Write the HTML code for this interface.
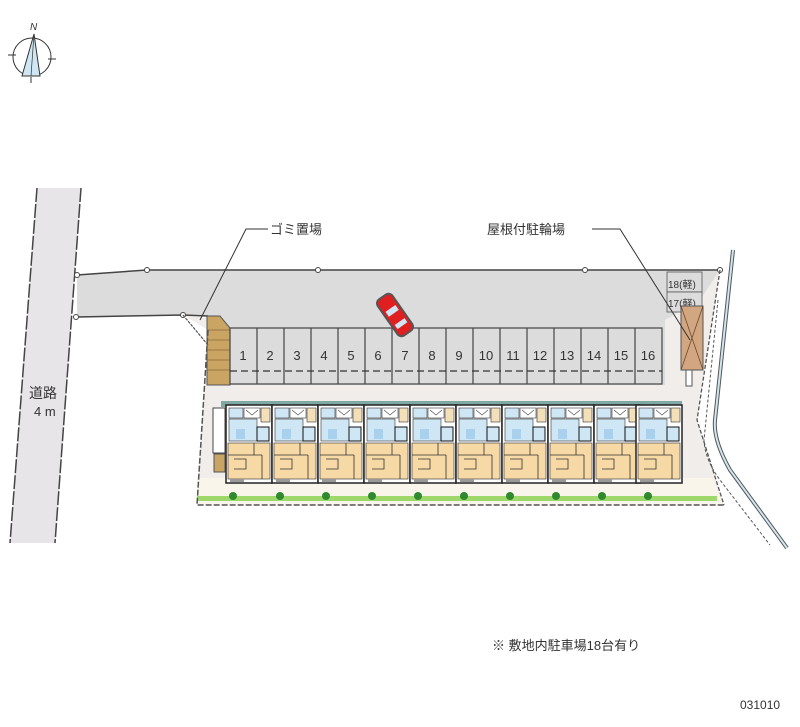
<!DOCTYPE html>
<html><head><meta charset="utf-8"><style>
html,body{margin:0;padding:0;background:#fff;width:800px;height:727px;overflow:hidden}
svg{display:block}
text{font-family:"Liberation Sans","Noto Sans CJK JP",sans-serif;fill:#333}
</style></head><body>
<svg width="800" height="727" viewBox="0 0 800 727" xmlns="http://www.w3.org/2000/svg">
<defs>
<g id="unit">
  <rect x="0" y="0" width="46" height="78" fill="#fff" stroke="#222" stroke-width="1.5"/>
  <rect x="3" y="3" width="14" height="10" fill="#cfe6f5" stroke="#333" stroke-width=".6"/>
  <rect x="18" y="3" width="16" height="10" fill="#fff" stroke="#333" stroke-width=".6"/>
  <path d="M20 5 L26 10 L32 5" fill="none" stroke="#444" stroke-width=".6"/>
  <rect x="35" y="3" width="9" height="14" fill="#f3dfb8" stroke="#333" stroke-width=".6"/>
  <rect x="3" y="14" width="28" height="22" fill="#cfe6f5" stroke="#333" stroke-width=".6"/>
  <rect x="10" y="24" width="9" height="10" fill="#a9d1ee"/>
  <rect x="31" y="22" width="12" height="14" fill="#cfe6f5" stroke="#111" stroke-width="1"/>
  <rect x="2" y="38" width="42" height="36" fill="#f7d9a6" stroke="#444" stroke-width=".7"/>
  <path d="M2 50 H36 M28 38 V50 M8 54 H20 V64 H8 M36 50 V74" fill="none" stroke="#333" stroke-width=".8"/>
  <rect x="4" y="74" width="14" height="3" fill="#999"/>
</g>
</defs>
<!-- compass -->
<g stroke="#333" stroke-width="1" fill="none">
  <circle cx="32" cy="57" r="19"/>
  <line x1="8" y1="55" x2="16" y2="55"/><line x1="48" y1="59" x2="56" y2="59"/>
  <line x1="31" y1="77" x2="31" y2="83"/>
</g>
<polygon points="34,34 22,76 40,76" fill="#cfe6f3" stroke="#333" stroke-width="1"/>
<line x1="34" y1="34" x2="31" y2="76" stroke="#333" stroke-width=".7"/>
<text x="30" y="30" font-size="10" font-style="italic">N</text>

<!-- left road -->
<polygon points="37,188 81,188 55,543 10,543" fill="#e8e5e8"/>
<line x1="37" y1="188" x2="10" y2="543" stroke="#444" stroke-width="1.5" stroke-dasharray="14 2"/>
<line x1="81" y1="188" x2="55" y2="543" stroke="#444" stroke-width="1.5" stroke-dasharray="14 2"/>
<text x="29" y="398" font-size="14">道路</text>
<text x="34" y="416" font-size="13">4 m</text>

<!-- site light area -->
<polygon points="183,315 230,320 665,320 700,300 720,270 697,420 724,505 197,505 208,330" fill="#f1edeb"/>
<polygon points="197,478 712,478 724,505 197,505" fill="#faf5ea"/>
<!-- driveway / lot -->
<polygon points="77,275 147,270 720,270 700,300 665,320 665,385 230,385 230,328 208,316 183,315 77,317" fill="#dcdcdc"/>
<polyline points="77,275 147,270 720,270" fill="none" stroke="#444" stroke-width="1.5"/>
<polyline points="77,317 183,315 208,316" fill="none" stroke="#444" stroke-width="1.5"/>
<g fill="#fff" stroke="#444" stroke-width="1"><circle cx="77" cy="275" r="2.5"/><circle cx="147" cy="270" r="2.5"/><circle cx="318" cy="270" r="2.5"/><circle cx="585" cy="270" r="2.5"/><circle cx="720" cy="270" r="2.5"/><circle cx="76" cy="317" r="2.5"/><circle cx="183" cy="315" r="2.5"/></g>
<!-- garbage -->
<polygon points="207,316 220,316 230,328 230,385 207,385" fill="#c9a463" stroke="#555" stroke-width="1"/>
<g stroke="#8a6a3a" stroke-width=".7"><line x1="207" y1="330" x2="230" y2="330"/><line x1="207" y1="340" x2="230" y2="340"/><line x1="207" y1="350" x2="230" y2="350"/><line x1="207" y1="360" x2="230" y2="360"/><line x1="207" y1="370" x2="230" y2="370"/></g>
<line x1="183" y1="315" x2="208" y2="345" stroke="#555" stroke-width="1.2" stroke-dasharray="3 1"/>
<!-- stalls -->
<rect x="230" y="328" width="432" height="56" fill="#dcdcdc" stroke="#444" stroke-width="1.2"/>
<g stroke="#444" stroke-width="1.2">
<line x1="257" y1="328" x2="257" y2="384"/><line x1="284" y1="328" x2="284" y2="384"/><line x1="311" y1="328" x2="311" y2="384"/><line x1="338" y1="328" x2="338" y2="384"/><line x1="365" y1="328" x2="365" y2="384"/><line x1="392" y1="328" x2="392" y2="384"/><line x1="419" y1="328" x2="419" y2="384"/><line x1="446" y1="328" x2="446" y2="384"/><line x1="473" y1="328" x2="473" y2="384"/><line x1="500" y1="328" x2="500" y2="384"/><line x1="527" y1="328" x2="527" y2="384"/><line x1="554" y1="328" x2="554" y2="384"/><line x1="581" y1="328" x2="581" y2="384"/><line x1="608" y1="328" x2="608" y2="384"/><line x1="635" y1="328" x2="635" y2="384"/>
</g>
<line x1="230" y1="371" x2="662" y2="371" stroke="#333" stroke-width="1.2" stroke-dasharray="7 4"/>
<g font-size="13" text-anchor="middle">
<text x="243" y="360">1</text><text x="270" y="360">2</text><text x="297" y="360">3</text><text x="324" y="360">4</text><text x="351" y="360">5</text><text x="378" y="360">6</text><text x="405" y="360">7</text><text x="432" y="360">8</text><text x="459" y="360">9</text><text x="486" y="360">10</text><text x="513" y="360">11</text><text x="540" y="360">12</text><text x="567" y="360">13</text><text x="594" y="360">14</text><text x="621" y="360">15</text><text x="648" y="360">16</text>
</g>
<!-- car -->
<g transform="translate(395,315) rotate(-35)">
<rect x="-9" y="-22" width="18" height="44" rx="5" fill="#e02020" stroke="#555" stroke-width="2"/>
<rect x="-6" y="-8" width="12" height="6" fill="#cfe6f5"/><rect x="-6" y="8" width="12" height="5" fill="#cfe6f5"/>
</g>
<!-- motorcycle stalls 17/18 -->
<rect x="667" y="272" width="35" height="20" fill="#dcdcdc" stroke="#555" stroke-width=".8"/>
<rect x="667" y="292" width="35" height="20" fill="#dcdcdc" stroke="#555" stroke-width=".8"/>
<text x="668" y="288" font-size="10">18(軽)</text>
<text x="668" y="307" font-size="10">17(軽)</text>
<rect x="681" y="306" width="22" height="64" fill="#d1a681" stroke="#555" stroke-width="1"/>
<path d="M681 306 L703 370 M703 306 L681 370" stroke="#6b4a30" stroke-width=".8"/>
<rect x="686" y="370" width="6" height="16" fill="#fff" stroke="#555"/>
<!-- building -->
<rect x="221" y="401" width="461" height="6" fill="#7fa8a2"/>
<use href="#unit" x="226" y="405"/><use href="#unit" x="272" y="405"/><use href="#unit" x="318" y="405"/><use href="#unit" x="364" y="405"/><use href="#unit" x="410" y="405"/><use href="#unit" x="456" y="405"/><use href="#unit" x="502" y="405"/><use href="#unit" x="548" y="405"/><use href="#unit" x="594" y="405"/><use href="#unit" x="636" y="405"/>
<rect x="213" y="408" width="12" height="45" fill="#fff" stroke="#444"/>
<rect x="214" y="454" width="11" height="18" fill="#c9a463" stroke="#555"/>
<!-- hedge -->
<rect x="197" y="496" width="520" height="5" fill="#9ed86a"/>
<g fill="#2f8a2f"><circle cx="233" cy="496" r="4"/><circle cx="280" cy="496" r="4"/><circle cx="326" cy="496" r="4"/><circle cx="372" cy="496" r="4"/><circle cx="418" cy="496" r="4"/><circle cx="464" cy="496" r="4"/><circle cx="510" cy="496" r="4"/><circle cx="556" cy="496" r="4"/><circle cx="602" cy="496" r="4"/><circle cx="648" cy="496" r="4"/></g>
<!-- boundaries -->
<polyline points="208,330 197,505 724,505" fill="none" stroke="#555" stroke-width="1.5" stroke-dasharray="6 2"/>
<polyline points="720,270 697,420 724,505" fill="none" stroke="#555" stroke-width="1.3" stroke-dasharray="4 2"/>
<!-- right road -->
<path d="M733 250 L715 420 Q713 440 730 470 L787 548" fill="none" stroke="#555" stroke-width="4"/>
<path d="M733 250 L715 420 Q713 440 730 470 L787 548" fill="none" stroke="#cfe6f3" stroke-width="2"/>
<path d="M718 300 L704 440 Q705 460 720 480 L770 545" fill="none" stroke="#555" stroke-width="1" stroke-dasharray="3 2"/>
<!-- labels -->
<polyline points="268,229 246,229 200,320" fill="none" stroke="#333" stroke-width="1"/>
<text x="270" y="234" font-size="13">ゴミ置場</text>
<polyline points="592,229 620,229 690,340" fill="none" stroke="#333" stroke-width="1"/>
<text x="487" y="234" font-size="13">屋根付駐輪場</text>
<text x="492" y="650" font-size="13">※ 敷地内駐車場18台有り</text>
<text x="740" y="709" font-size="12">031010</text>
</svg>
</body></html>
